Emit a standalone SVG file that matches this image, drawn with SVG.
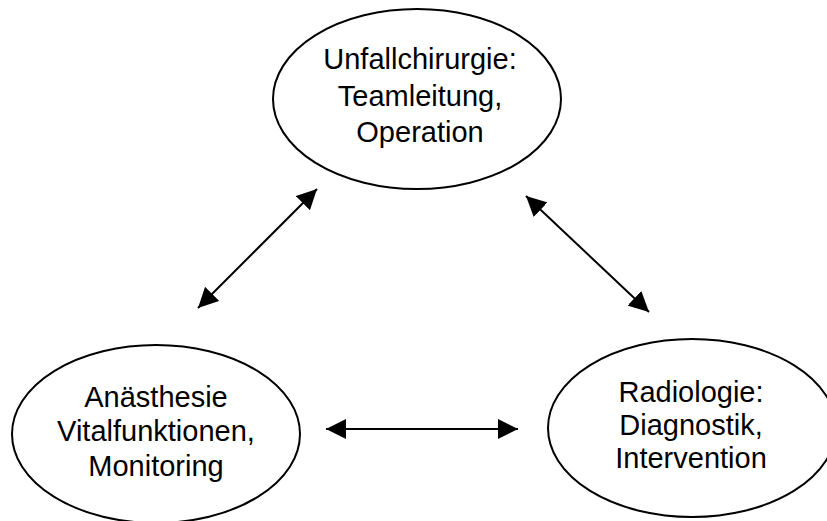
<svg xmlns="http://www.w3.org/2000/svg" width="827" height="521" viewBox="0 0 827 521">
<defs>
<marker id="ah" viewBox="0 0 20 20" refX="20" refY="10" markerWidth="20" markerHeight="20" markerUnits="userSpaceOnUse" orient="auto-start-reverse">
<path d="M0,0 L20,10 L0,20 z" fill="#000"/>
</marker>
<style>
.node ellipse{fill:#fff;stroke:#000;stroke-width:2}
.node text{font-family:"Liberation Sans",Arial,sans-serif;font-size:29px;fill:#000;text-anchor:middle}
.conn line{stroke:#000;stroke-width:2;marker-start:url(#ah);marker-end:url(#ah)}
</style>
</defs>
<rect width="827" height="521" fill="#fff"/>
<g id="unfallchirurgie" class="node">
<ellipse cx="417" cy="99" rx="144" ry="90"/>
<text x="420" y="69">Unfallchirurgie:</text>
<text x="420" y="106">Teamleitung,</text>
<text x="420" y="142">Operation</text>
</g>
<g id="anaesthesie" class="node">
<ellipse cx="156" cy="434" rx="144" ry="89"/>
<text x="156" y="407">Anästhesie</text>
<text x="156" y="441">Vitalfunktionen,</text>
<text x="156" y="476">Monitoring</text>
</g>
<g id="radiologie" class="node">
<ellipse cx="692" cy="428" rx="144" ry="89"/>
<text x="691" y="402">Radiologie:</text>
<text x="691" y="435">Diagnostik,</text>
<text x="691" y="468">Intervention</text>
</g>
<g id="connectors" class="conn">
<line x1="317" y1="189" x2="198" y2="308"/>
<line x1="526" y1="196" x2="649" y2="312"/>
<line x1="326" y1="429" x2="518" y2="429"/>
</g>
</svg>
